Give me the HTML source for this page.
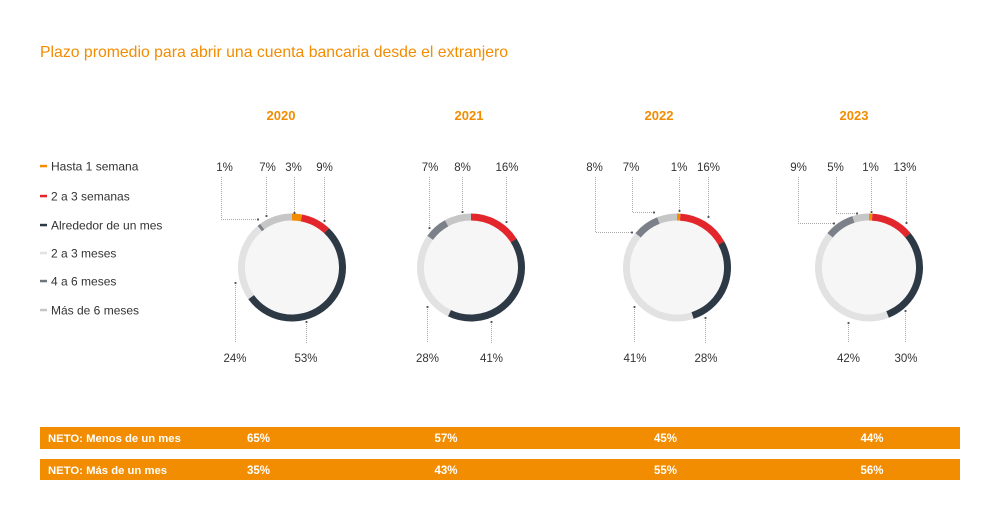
<!DOCTYPE html>
<html>
<head>
<meta charset="utf-8">
<style>
  html, body { margin: 0; padding: 0; background: #ffffff; }
  svg { display: block; font-family: "Liberation Sans", Arial, sans-serif; }
</style>
</head>
<body>
<svg width="1000" height="520" viewBox="0 0 1000 520" xmlns="http://www.w3.org/2000/svg">
  <rect width="1000" height="520" fill="#ffffff"/>

  <!-- Title -->
  <text x="40" y="57" font-size="15.8" fill="#f28c00">Plazo promedio para abrir una cuenta bancaria desde el extranjero</text>

  <!-- Year labels -->
  <g font-size="13" font-weight="bold" fill="#f28c00" text-anchor="middle">
    <text x="281" y="120">2020</text>
    <text x="469" y="120">2021</text>
    <text x="659" y="120">2022</text>
    <text x="854" y="120">2023</text>
  </g>

  <!-- Legend -->
  <g font-size="12" fill="#333333">
    <rect x="40" y="164.8" width="7" height="2.5" fill="#f28c00"/>
    <text x="51" y="170.5">Hasta 1 semana</text>
    <rect x="40" y="194.8" width="7" height="2.5" fill="#e3262b"/>
    <text x="51" y="200.5">2 a 3 semanas</text>
    <rect x="40" y="223.8" width="7" height="2.5" fill="#2d3a46"/>
    <text x="51" y="229.5">Alrededor de un mes</text>
    <rect x="40" y="251.8" width="7" height="2.5" fill="#e2e2e2"/>
    <text x="51" y="257.5">2 a 3 meses</text>
    <rect x="40" y="279.8" width="7" height="2.5" fill="#6f757d"/>
    <text x="51" y="285.5">4 a 6 meses</text>
    <rect x="40" y="308.8" width="7" height="2.5" fill="#c6c6c6"/>
    <text x="51" y="314.5">Más de 6 meses</text>
  </g>

  <!-- Donut 2020 -->
  <g fill="none" stroke-width="7">
    <circle cx="292" cy="267.5" r="47" fill="#f6f6f6" stroke="none"/>
    <circle cx="292" cy="267.5" r="50.5" stroke="#f28c00" stroke-dasharray="9.52 400" transform="rotate(-90 292 267.5)"/>
    <circle cx="292" cy="267.5" r="50.5" stroke="#e3262b" stroke-dasharray="28.56 400" transform="rotate(-79.2 292 267.5)"/>
    <circle cx="292" cy="267.5" r="50.5" stroke="#2d3a46" stroke-dasharray="168.17 400" transform="rotate(-46.8 292 267.5)"/>
    <circle cx="292" cy="267.5" r="50.5" stroke="#e2e2e2" stroke-dasharray="76.15 400" transform="rotate(144 292 267.5)"/>
    <circle cx="292" cy="267.5" r="50.5" stroke="#7c8189" stroke-dasharray="3.17 400" transform="rotate(230.4 292 267.5)"/>
    <circle cx="292" cy="267.5" r="50.5" stroke="#c6c6c6" stroke-dasharray="31.73 400" transform="rotate(234 292 267.5)"/>
  </g>

  <!-- Donut 2021 -->
  <g fill="none" stroke-width="7">
    <circle cx="471" cy="267.5" r="47" fill="#f6f6f6" stroke="none"/>
    <circle cx="471" cy="267.5" r="50.5" stroke="#e3262b" stroke-dasharray="50.77 400" transform="rotate(-90 471 267.5)"/>
    <circle cx="471" cy="267.5" r="50.5" stroke="#2d3a46" stroke-dasharray="130.09 400" transform="rotate(-32.4 471 267.5)"/>
    <circle cx="471" cy="267.5" r="50.5" stroke="#e2e2e2" stroke-dasharray="88.84 400" transform="rotate(115.2 471 267.5)"/>
    <circle cx="471" cy="267.5" r="50.5" stroke="#7c8189" stroke-dasharray="22.21 400" transform="rotate(216 471 267.5)"/>
    <circle cx="471" cy="267.5" r="50.5" stroke="#c6c6c6" stroke-dasharray="25.38 400" transform="rotate(241.2 471 267.5)"/>
  </g>

  <!-- Donut 2022 -->
  <g fill="none" stroke-width="7">
    <circle cx="677" cy="267.5" r="47" fill="#f6f6f6" stroke="none"/>
    <circle cx="677" cy="267.5" r="50.5" stroke="#f28c00" stroke-dasharray="3.17 400" transform="rotate(-90 677 267.5)"/>
    <circle cx="677" cy="267.5" r="50.5" stroke="#e3262b" stroke-dasharray="50.77 400" transform="rotate(-86.4 677 267.5)"/>
    <circle cx="677" cy="267.5" r="50.5" stroke="#2d3a46" stroke-dasharray="88.84 400" transform="rotate(-28.8 677 267.5)"/>
    <circle cx="677" cy="267.5" r="50.5" stroke="#e2e2e2" stroke-dasharray="130.09 400" transform="rotate(72 677 267.5)"/>
    <circle cx="677" cy="267.5" r="50.5" stroke="#7c8189" stroke-dasharray="25.38 400" transform="rotate(219.6 677 267.5)"/>
    <circle cx="677" cy="267.5" r="50.5" stroke="#c6c6c6" stroke-dasharray="19.04 400" transform="rotate(248.4 677 267.5)"/>
  </g>

  <!-- Donut 2023 -->
  <g fill="none" stroke-width="7">
    <circle cx="869" cy="267.5" r="47" fill="#f6f6f6" stroke="none"/>
    <circle cx="869" cy="267.5" r="50.5" stroke="#f28c00" stroke-dasharray="3.17 400" transform="rotate(-90 869 267.5)"/>
    <circle cx="869" cy="267.5" r="50.5" stroke="#e3262b" stroke-dasharray="41.25 400" transform="rotate(-86.4 869 267.5)"/>
    <circle cx="869" cy="267.5" r="50.5" stroke="#2d3a46" stroke-dasharray="95.19 400" transform="rotate(-39.6 869 267.5)"/>
    <circle cx="869" cy="267.5" r="50.5" stroke="#e2e2e2" stroke-dasharray="133.27 400" transform="rotate(68.4 869 267.5)"/>
    <circle cx="869" cy="267.5" r="50.5" stroke="#7c8189" stroke-dasharray="28.56 400" transform="rotate(219.6 869 267.5)"/>
    <circle cx="869" cy="267.5" r="50.5" stroke="#c6c6c6" stroke-dasharray="15.87 400" transform="rotate(252 869 267.5)"/>
  </g>

  <!-- Leader lines -->
  <g fill="none" stroke="#aaaaaa" stroke-width="1" stroke-dasharray="1 1">
    <!-- 2020 -->
    <path d="M221.5,177 V219.5 H258"/>
    <path d="M266.5,177 V216"/>
    <path d="M294.5,177 V213"/>
    <path d="M324.5,177 V221"/>
    <path d="M235.5,283 V343"/>
    <path d="M306.5,322 V343"/>
    <!-- 2021 -->
    <path d="M429.5,177 V228"/>
    <path d="M462.5,177 V212"/>
    <path d="M506.5,177 V222"/>
    <path d="M427.5,307 V343"/>
    <path d="M491.5,322 V343"/>
    <!-- 2022 -->
    <path d="M595.5,177 V232.5 H632"/>
    <path d="M632.5,177 V212.5 H654"/>
    <path d="M679.5,177 V211"/>
    <path d="M708.5,177 V217"/>
    <path d="M634.5,307 V343"/>
    <path d="M705.5,318 V343"/>
    <!-- 2023 -->
    <path d="M798.5,177 V223.5 H834"/>
    <path d="M836.5,177 V213.5 H857"/>
    <path d="M871.5,177 V212"/>
    <path d="M906.5,177 V223"/>
    <path d="M848.5,323 V343"/>
    <path d="M905.5,311 V343"/>
  </g>

  <!-- Dots -->
  <g fill="#555555">
    <circle cx="258" cy="219.5" r="1.1"/>
    <circle cx="266.5" cy="216" r="1.1"/>
    <circle cx="294.5" cy="213" r="1.1"/>
    <circle cx="324.5" cy="221" r="1.1"/>
    <circle cx="235.5" cy="283" r="1.1"/>
    <circle cx="306.5" cy="322" r="1.1"/>

    <circle cx="429.5" cy="228" r="1.1"/>
    <circle cx="462.5" cy="212" r="1.1"/>
    <circle cx="506.5" cy="222" r="1.1"/>
    <circle cx="427.5" cy="307" r="1.1"/>
    <circle cx="491.5" cy="322" r="1.1"/>

    <circle cx="632" cy="232.5" r="1.1"/>
    <circle cx="654" cy="212.5" r="1.1"/>
    <circle cx="679.5" cy="211" r="1.1"/>
    <circle cx="708.5" cy="217" r="1.1"/>
    <circle cx="634.5" cy="307" r="1.1"/>
    <circle cx="705.5" cy="318" r="1.1"/>

    <circle cx="834" cy="223.5" r="1.1"/>
    <circle cx="857" cy="213.5" r="1.1"/>
    <circle cx="871.5" cy="212" r="1.1"/>
    <circle cx="906.5" cy="223" r="1.1"/>
    <circle cx="848.5" cy="323" r="1.1"/>
    <circle cx="905.5" cy="311" r="1.1"/>
  </g>

  <!-- Percentage labels -->
  <g font-size="11.5" fill="#333333" text-anchor="middle">
    <text x="224.5" y="171">1%</text>
    <text x="267.5" y="171">7%</text>
    <text x="293.5" y="171">3%</text>
    <text x="324.5" y="171">9%</text>
    <text x="235" y="362">24%</text>
    <text x="306" y="362">53%</text>

    <text x="430" y="171">7%</text>
    <text x="462.5" y="171">8%</text>
    <text x="507" y="171">16%</text>
    <text x="427.5" y="362">28%</text>
    <text x="491.5" y="362">41%</text>

    <text x="594.5" y="171">8%</text>
    <text x="631" y="171">7%</text>
    <text x="679" y="171">1%</text>
    <text x="708.5" y="171">16%</text>
    <text x="635" y="362">41%</text>
    <text x="706" y="362">28%</text>

    <text x="798.5" y="171">9%</text>
    <text x="835.5" y="171">5%</text>
    <text x="870.5" y="171">1%</text>
    <text x="905" y="171">13%</text>
    <text x="848.5" y="362">42%</text>
    <text x="906" y="362">30%</text>
  </g>

  <!-- Bottom bars -->
  <rect x="40" y="427" width="920" height="22" fill="#f28c00"/>
  <rect x="40" y="459" width="920" height="21" fill="#f28c00"/>
  <g font-size="11.3" font-weight="bold" fill="#ffffff">
    <text x="48" y="442">NETO: Menos de un mes</text>
    <text x="48" y="474">NETO: Más de un mes</text>
  </g>
  <g font-size="11.5" font-weight="bold" fill="#ffffff" text-anchor="middle">
    <text x="258.5" y="442">65%</text>
    <text x="446" y="442">57%</text>
    <text x="665.5" y="442">45%</text>
    <text x="872" y="442">44%</text>
    <text x="258.5" y="474">35%</text>
    <text x="446" y="474">43%</text>
    <text x="665.5" y="474">55%</text>
    <text x="872" y="474">56%</text>
  </g>
</svg>
</body>
</html>
